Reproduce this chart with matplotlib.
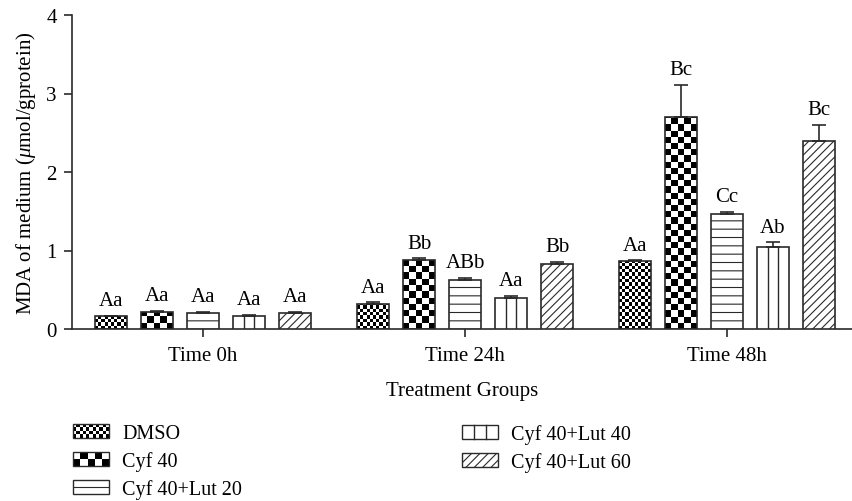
import numpy as np
import matplotlib
matplotlib.use("Agg")
from matplotlib import pyplot as plt
from matplotlib.patches import Rectangle, Patch
from matplotlib.legend_handler import HandlerBase

plt.rcParams['font.family'] = ['Liberation Serif', 'DejaVu Serif']
plt.rcParams['mathtext.fontset'] = 'custom'
plt.rcParams['mathtext.rm'] = 'Liberation Serif'
plt.rcParams['mathtext.it'] = 'Liberation Serif:italic'
plt.rcParams['hatch.linewidth'] = 0.8

# dados
grupos = ['Time 0h', 'Time 24h', 'Time 48h']
tratamentos = ['DMSO', 'Cyf 40', 'Cyf 40+Lut 20', 'Cyf 40+Lut 40', 'Cyf 40+Lut 60']
dmso = [0.16, 0.32, 0.86]
cyf40 = [0.22, 0.88, 2.70]
lut20 = [0.21, 0.62, 1.46]
lut40 = [0.17, 0.40, 1.05]
lut60 = [0.21, 0.83, 2.40]
err_dmso = [0.01, 0.02, 0.015]
err_cyf40 = [0.01, 0.02, 0.41]
err_lut20 = [0.01, 0.03, 0.03]
err_lut40 = [0.01, 0.02, 0.055]
err_lut60 = [0.01, 0.025, 0.20]
letras = [['Aa', 'Aa', 'Aa'],
          ['Aa', 'Bb', 'Bc'],
          ['Aa', 'ABb', 'Cc'],
          ['Aa', 'Aa', 'Ab'],
          ['Aa', 'Bb', 'Bc']]

valores = [dmso, cyf40, lut20, lut40, lut60]
erros = [err_dmso, err_cyf40, err_lut20, err_lut40, err_lut60]

cor = '#2a2a2a'
fs = 15

fig = plt.figure(figsize=(8.52, 5.02), dpi=100)
ax = fig.add_axes([72/852, (502-330)/502, (852-72)/852, (330-16)/502])
ax.set_xlim(-0.5, 2.477)
ax.set_ylim(0, 4)

passo = 0.1756
larg = 0.122
x = np.arange(len(grupos))

# tamanho de um pixel em unidades de dado
p0 = ax.transData.transform((0, 0))
p1 = ax.transData.transform((1, 1))
ppx = p1[0] - p0[0]
ppy = p1[1] - p0[1]


def xadrez(barra, lado):
    # preenche a barra com um xadrez recortado pelo retangulo
    x0 = barra.get_x()
    w = barra.get_width()
    h = barra.get_height()
    ncol = max(1, int(round(w*ppx/lado)))
    sy = lado/ppy
    nlin = int(np.ceil(h/sy)) + 1
    ii, jj = np.indices((nlin, ncol))
    img = ((ii + jj) % 2).astype(float)
    im = ax.imshow(img, extent=(x0, x0+w, 0, nlin*sy), origin='lower', cmap='gray',
                   vmin=0, vmax=1, interpolation='nearest', aspect='auto', zorder=2.5)
    im.set_clip_path(barra)


for k in range(5):
    pos = x + (k-2)*passo
    if k in (0, 1):
        barras = ax.bar(pos, valores[k], larg, color='white', edgecolor='none', zorder=2)
        for b in barras:
            xadrez(b, 3.3 if k == 0 else 6.2)
        ax.bar(pos, valores[k], larg, fill=False, edgecolor=cor, linewidth=1.2, zorder=3)
    elif k == 2:
        ax.bar(pos, valores[k], larg, color='white', edgecolor=cor, linewidth=1.2, hatch='--', zorder=3)
    elif k == 3:
        barras = ax.bar(pos, valores[k], larg, color='white', edgecolor=cor, linewidth=1.2, zorder=3)
        for b in barras:
            for f in (1/3, 2/3):
                ax.vlines(b.get_x() + f*b.get_width(), 0, b.get_height(), color=cor, lw=1.0, zorder=3)
    else:
        ax.bar(pos, valores[k], larg, color='white', edgecolor=cor, linewidth=1.2, hatch='////', zorder=3)
    ax.errorbar(pos, valores[k], yerr=[np.zeros(3), erros[k]], fmt='none', ecolor=cor,
                elinewidth=1.2, capsize=5, capthick=1.2, zorder=4)
    for i in range(3):
        ax.annotate(letras[k][i], (pos[i], valores[k][i] + erros[k][i]), xytext=(0, 4),
                    textcoords='offset points', ha='center', va='bottom', fontsize=fs)

for s in ['top', 'right']:
    ax.spines[s].set_visible(False)
for s in ['left', 'bottom']:
    ax.spines[s].set_color(cor)
    ax.spines[s].set_linewidth(1.2)

ax.set_yticks([0, 1, 2, 3, 4])
ax.set_xticks(x)
ax.set_xticklabels(grupos)
ax.tick_params(axis='both', colors=cor, labelcolor='black', labelsize=fs, length=6, width=1.2, pad=5)
ax.tick_params(axis='x', pad=6)
ax.set_ylabel(r'MDA of medium ($\mu$mol/gprotein)', fontsize=fs, labelpad=6)
ax.set_xlabel('Treatment Groups', fontsize=fs, labelpad=12)


class HandlerXadrez(HandlerBase):
    def __init__(self, ncol):
        super().__init__()
        self.ncol = ncol

    def create_artists(self, legend, orig_handle, xdescent, ydescent, width, height, fontsize, trans):
        arts = [Rectangle((-xdescent, -ydescent), width, height, fc='white', ec='none', transform=trans)]
        s = width/self.ncol
        nlin = max(1, int(round(height/s)))
        sy = height/nlin
        for i in range(self.ncol):
            for j in range(nlin):
                if (i + j) % 2 == 0:
                    arts.append(Rectangle((-xdescent + i*s, -ydescent + j*sy), s, sy, fc='black',
                                          ec='none', transform=trans))
        arts.append(Rectangle((-xdescent, -ydescent), width, height, fill=False, ec=cor, lw=1.0,
                              transform=trans))
        return arts


class HandlerVert(HandlerBase):
    def create_artists(self, legend, orig_handle, xdescent, ydescent, width, height, fontsize, trans):
        arts = [Rectangle((-xdescent, -ydescent), width, height, fc='white', ec=cor, lw=1.0, transform=trans)]
        for f in (1/3, 2/3):
            arts.append(plt.Line2D([-xdescent + f*width]*2, [-ydescent, -ydescent + height], color=cor,
                                   lw=1.0, transform=trans))
        return arts


h_dmso = Patch(fc='white')
h_cyf = Patch(fc='white')
h_l20 = Patch(fc='white', ec=cor, hatch='--')
h_l40 = Patch(fc='white')
h_l60 = Patch(fc='white', ec=cor, hatch='////')

mapa = {h_dmso: HandlerXadrez(11), h_cyf: HandlerXadrez(5), h_l40: HandlerVert()}
opts = dict(frameon=False, fontsize=14.5, handlelength=1.8, handleheight=0.68,
            handletextpad=0.65, labelspacing=0.40, borderpad=0, borderaxespad=0,
            handler_map=mapa)
leg1 = fig.legend([h_dmso, h_cyf, h_l20], tratamentos[:3], loc='upper left',
                  bbox_to_anchor=(73/852, 1 - 425/502), **opts)
leg2 = fig.legend([h_l40, h_l60], tratamentos[3:], loc='upper left',
                  bbox_to_anchor=(462/852, 1 - 425/502), **opts)

fig.savefig('out.png', dpi=100)
